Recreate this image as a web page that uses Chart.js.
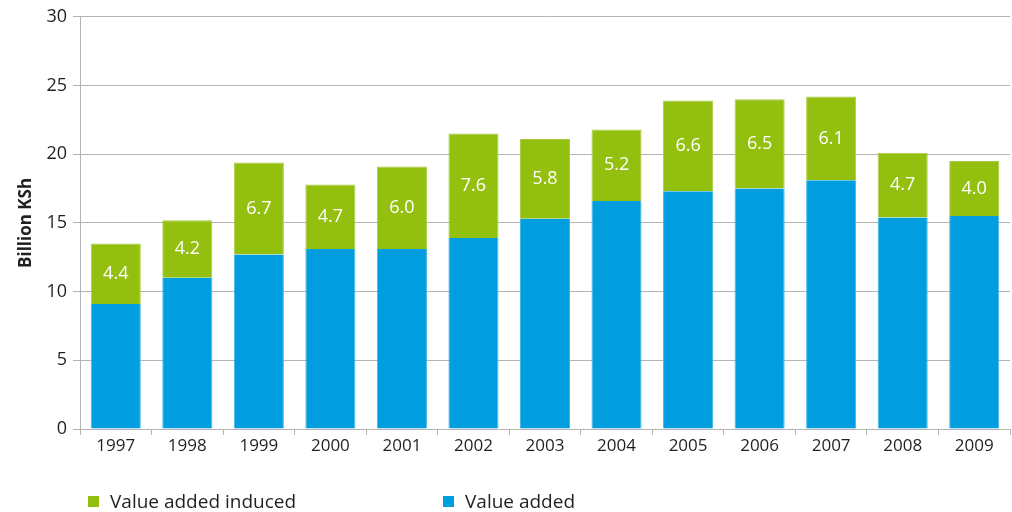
<!DOCTYPE html>
<html>
<head>
<meta charset="utf-8">
<script src="https://cdn.jsdelivr.net/npm/chart.js@4"></script>
<style>
  html, body { margin: 0; padding: 0; background: #fff; }
  #wrap { position: relative; width: 1012px; height: 512px; }
  #legend { position: absolute; top: 488px; left: 0; width: 1012px; font-family: "Open Sans", sans-serif; font-size: 19px; color: #231f20; }
  .item { position: absolute; top: 0; white-space: nowrap; }
  .box { display: inline-block; width: 11px; height: 11px; margin-right: 11px; vertical-align: 1px; }
</style>
</head>
<body>
<div id="wrap">
  <canvas id="chart" width="1012" height="512"></canvas>
  <div id="legend">
    <div class="item" style="left:88px"><span class="box" style="background:#93bf0e"></span>Value added induced</div>
    <div class="item" style="left:443px"><span class="box" style="background:#009ddf"></span>Value added</div>
  </div>
</div>
<script>
// data
const years = ['1997', '1998', '1999', '2000', '2001', '2002', '2003', '2004', '2005', '2006', '2007', '2008', '2009'];
const valueAdded = [9.1, 11.0, 12.7, 13.1, 13.1, 13.9, 15.3, 16.6, 17.3, 17.5, 18.1, 15.4, 15.5];
const valueAddedInduced = [4.4, 4.2, 6.7, 4.7, 6.0, 7.6, 5.8, 5.2, 6.6, 6.5, 6.1, 4.7, 4.0];
const yTicks = [0, 5, 10, 15, 20, 25, 30];

const green = '#93bf0e';
const blue = '#009ddf';
const gridColor = '#b4b4b4';
const textColor = '#231f20';
const fontFamily = '"Open Sans", sans-serif';

// white value labels in the middle of the green segments
const inducedLabels = {
  id: 'inducedLabels',
  afterDatasetsDraw(chart) {
    const ctx = chart.ctx;
    const meta = chart.getDatasetMeta(1);
    ctx.save();
    ctx.fillStyle = '#fff';
    ctx.font = '18px ' + fontFamily;
    ctx.textAlign = 'center';
    ctx.textBaseline = 'middle';
    meta.data.forEach((bar, i) => {
      const mid = (bar.y + bar.base) / 2;
      ctx.fillText(valueAddedInduced[i].toFixed(1), bar.x, mid);
    });
    ctx.restore();
  }
};

new Chart(document.getElementById('chart'), {
  type: 'bar',
  data: {
    labels: years,
    datasets: [
      {
        label: 'Value added',
        data: valueAdded,
        backgroundColor: blue,
        borderColor: '#3fb4e6',
        borderWidth: { left: 1, right: 1, top: 0, bottom: 0 },
        borderSkipped: false,
        stack: 's'
      },
      {
        label: 'Value added induced',
        data: valueAddedInduced,
        backgroundColor: green,
        borderColor: '#a9cc45',
        borderWidth: { left: 1, right: 1, top: 1, bottom: 0 },
        borderSkipped: false,
        stack: 's'
      }
    ]
  },
  options: {
    responsive: false,
    animation: false,
    layout: { padding: { top: 15, right: 2, bottom: 53, left: 0 } },
    plugins: {
      legend: { display: false },
      tooltip: { enabled: false }
    },
    datasets: {
      bar: { categoryPercentage: 1, barPercentage: 0.7 }
    },
    scales: {
      x: {
        stacked: true,
        afterFit(scale) { scale.height = 30; },
        grid: { drawOnChartArea: false, drawTicks: true, tickLength: 6, color: gridColor, offset: true },
        border: { color: gridColor },
        ticks: { color: textColor, font: { family: fontFamily, size: 17 }, padding: 1 }
      },
      y: {
        stacked: true,
        min: 0,
        max: 30,
        afterFit(scale) { scale.width = 80; },
        afterBuildTicks(scale) { scale.ticks = yTicks.map(v => ({ value: v })); },
        grid: { color: gridColor, tickLength: 7 },
        border: { color: gridColor },
        ticks: { color: textColor, font: { family: fontFamily, size: 18 }, padding: 6 },
        title: {
          display: true,
          text: 'Billion KSh',
          color: textColor,
          font: { family: fontFamily, size: 17, weight: 'bold' },
          padding: { top: 16, bottom: 0 }
        }
      }
    }
  },
  plugins: [inducedLabels]
});
</script>
</body>
</html>
